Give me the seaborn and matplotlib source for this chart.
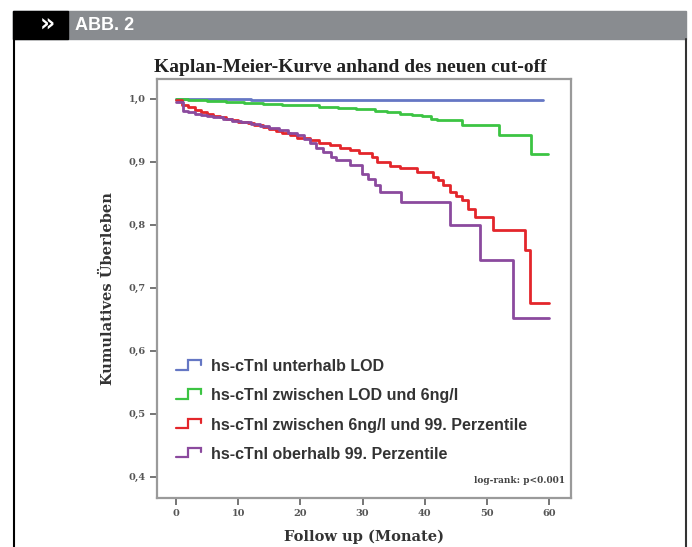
import numpy as np
import pandas as pd
import matplotlib
matplotlib.use('Agg')
import matplotlib.pyplot as plt
import seaborn as sns
from matplotlib.legend_handler import HandlerLine2D
from matplotlib.lines import Line2D
from matplotlib.patches import Rectangle

# Kaplan-Meier step data (time in months, cumulative survival)
groups = ['hs-cTnI unterhalb LOD',
          'hs-cTnI zwischen LOD und 6ng/l',
          'hs-cTnI zwischen 6ng/l und 99. Perzentile',
          'hs-cTnI oberhalb 99. Perzentile']
colors = ['#6577c4', '#3cc443', '#e3262b', '#8b4a9e']

t_lod = [0, 12, 59]
s_lod = [1.0, 0.998, 0.998]

t_lod6 = [0, 2, 5, 8, 11, 14, 17, 20, 23, 26, 29, 32, 34, 36, 38, 39.5, 41, 42, 46, 52, 57, 59.8]
s_lod6 = [1.0, 0.998, 0.996, 0.995, 0.993, 0.992, 0.990, 0.989, 0.987, 0.985, 0.983, 0.980,
          0.978, 0.976, 0.974, 0.972, 0.968, 0.966, 0.958, 0.942, 0.912, 0.912]

t_6_99 = [0, 1, 2, 3, 4, 5, 6, 7, 8, 9, 10, 11.5, 12.5, 14, 15, 16, 17, 18.3, 19.5, 21.5, 23,
          24.8, 26.4, 28, 29.5, 31.5, 32.3, 34.4, 36, 38.7, 41.3, 42.1, 43, 44, 45, 46, 47,
          48.1, 51, 56.1, 56.9, 60]
s_6_99 = [0.997, 0.990, 0.986, 0.982, 0.979, 0.976, 0.973, 0.971, 0.968, 0.966, 0.963, 0.961,
          0.958, 0.955, 0.952, 0.948, 0.945, 0.942, 0.938, 0.934, 0.930, 0.926, 0.921, 0.918,
          0.914, 0.907, 0.899, 0.893, 0.889, 0.883, 0.876, 0.870, 0.862, 0.852, 0.845, 0.839,
          0.825, 0.812, 0.791, 0.759, 0.675, 0.675]

t_99 = [0, 1.1, 2, 3, 4, 5, 6, 7.5, 9, 10.5, 12, 13.5, 15, 16.5, 18, 19.4, 20.5, 21.5, 22.5,
        23.7, 25, 25.8, 28, 29.9, 30.9, 32, 32.8, 36.2, 44, 48.9, 54.1, 60]
s_99 = [0.995, 0.981, 0.978, 0.976, 0.974, 0.972, 0.970, 0.968, 0.965, 0.962, 0.960, 0.957,
        0.954, 0.950, 0.946, 0.942, 0.935, 0.929, 0.922, 0.915, 0.907, 0.902, 0.895, 0.881,
        0.873, 0.862, 0.852, 0.836, 0.799, 0.744, 0.652, 0.652]

series = [(t_lod, s_lod), (t_lod6, s_lod6), (t_6_99, s_6_99), (t_99, s_99)]
frames = []
for name, (t, s) in zip(groups, series):
    frames.append(pd.DataFrame({'Monate': t, 'Ueberleben': s, 'Gruppe': name}))
df = pd.concat(frames, ignore_index=True)

x_ticks = [0, 10, 20, 30, 40, 50, 60]
y_ticks = [0.4, 0.5, 0.6, 0.7, 0.8, 0.9, 1.0]
y_ticklabels = ['0,4', '0,5', '0,6', '0,7', '0,8', '0,9', '1,0']


class StepHandler(HandlerLine2D):
    # legend icon shaped like a small survival step
    def create_artists(self, legend, orig_handle, xdescent, ydescent, width, height, fontsize, trans):
        x0, w, h = -xdescent, width, height
        xs = [x0, x0 + w * 0.5, x0 + w * 0.5, x0 + w, x0 + w]
        ys = [h * 0.1, h * 0.1, h * 0.9, h * 0.9, h * 0.55]
        ln = Line2D(xs, ys, color=orig_handle.get_color(), lw=orig_handle.get_linewidth(),
                    solid_joinstyle='miter')
        ln.set_transform(trans)
        return [ln]


sns.set_style('white')
fig = plt.figure(figsize=(6.92, 5.47), dpi=100)

# header bar "ABB. 2" and outer frame
fig.patches.append(Rectangle((13 / 692, 1 - 39 / 547), (686 - 13) / 692, 28 / 547,
                             transform=fig.transFigure, color='#898c90', zorder=0))
fig.patches.append(Rectangle((13 / 692, 1 - 39 / 547), (68 - 13) / 692, 28 / 547,
                             transform=fig.transFigure, color='black', zorder=1))
fig.lines.append(Line2D([13.5 / 692, 13.5 / 692], [0, 1 - 39 / 547], transform=fig.transFigure,
                        color='black', lw=1.5))
fig.lines.append(Line2D([685.5 / 692, 685.5 / 692], [0, 1 - 39 / 547], transform=fig.transFigure,
                        color='#333333', lw=1.5))
fig.text(47 / 692, 1 - 25 / 547, '»', color='white', fontsize=17, fontweight='bold',
         ha='center', va='center', family='DejaVu Sans')
fig.text(75 / 692, 1 - 25.5 / 547, 'ABB. 2', color='white', fontsize=13, fontweight='bold',
         ha='left', va='center', family=['Liberation Sans Narrow', 'Liberation Sans'])

ax = fig.add_axes([157 / 692, 1 - 498 / 547, (571 - 157) / 692, (498 - 79) / 547])
sns.lineplot(data=df, x='Monate', y='Ueberleben', hue='Gruppe', hue_order=groups,
             palette=colors, estimator=None, sort=False, drawstyle='steps-post',
             lw=2, legend=False, ax=ax)

ax.set_xlim(-3.05, 63.5)
ax.set_ylim(0.366, 1.031)
ax.set_xticks(x_ticks)
ax.set_yticks(y_ticks)
ax.set_yticklabels(y_ticklabels)
ax.tick_params(axis='both', direction='out', length=5, width=1.3, color='#6a6a6a',
               labelcolor='#555555', labelsize=7, pad=3, bottom=True, left=True)
for lab in ax.get_xticklabels() + ax.get_yticklabels():
    lab.set_family('DejaVu Serif')
    lab.set_fontweight('bold')
for sp in ax.spines.values():
    sp.set_color('#9a9a9a')
    sp.set_linewidth(1.6)

ax.set_xlabel('Follow up (Monate)', family='DejaVu Serif', fontweight='bold',
              fontsize=10.5, color='#333333', labelpad=8)
ax.set_ylabel('Kumulatives Überleben', family='DejaVu Serif', fontweight='bold',
              fontsize=10.5, color='#333333', labelpad=10)
ax.set_title('Kaplan-Meier-Kurve anhand des neuen cut-off', family='Liberation Serif',
             fontweight='bold', fontsize=14, color='#222222', pad=5, x=0.466)

handles = [Line2D([], [], color=c, lw=1.6) for c in colors]
ax.legend(handles, groups, loc='upper left', bbox_to_anchor=(0.01, 0.365), frameon=False,
          handler_map={Line2D: StepHandler()}, handlelength=1.6, handleheight=0.8,
          labelspacing=0.88, handletextpad=0.6,
          prop={'family': 'Liberation Sans', 'weight': 'bold', 'size': 11.5})
for txt in ax.get_legend().get_texts():
    txt.set_color('#333333')

ax.text(0.985, 0.03, 'log-rank: p<0.001', transform=ax.transAxes, ha='right', va='bottom',
        family='DejaVu Serif', fontweight='bold', fontsize=6.5, color='#444444')

fig.savefig('out.png', dpi=100)
